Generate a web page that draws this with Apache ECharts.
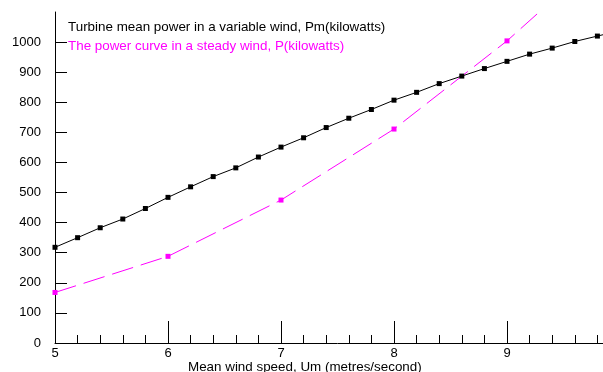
<!DOCTYPE html>
<html>
<head>
<meta charset="utf-8">
<script src="https://cdn.jsdelivr.net/npm/echarts@6/dist/echarts.min.js"></script>
<style>html,body{margin:0;padding:0;background:#fff;overflow:hidden;width:603px;height:372px}#c{width:620px;height:372px}</style>
</head>
<body>
<div id="c"></div>
<script>
const windSpeedMean = [5.0,5.2,5.4,5.6,5.8,6.0,6.2,6.4,6.6,6.8,7.0,7.2,7.4,7.6,7.8,8.0,8.2,8.4,8.6,8.8,9.0,9.2,9.4,9.6,9.8,10.0];
const meanPower = [318,350,383,412,447,484,519,553,582,618,651,682,716,747,776,807,833,862,887,912,936,960,980,1002,1020,1038];
const windSpeedSteady = [5,6,7,8,9,10];
const steadyPower = [168,288,475,711,1004,1340];
const yTickValues = [0,100,200,300,400,500,600,700,800,900,1000];
const xTickValues = [5,6,7,8,9,10];
const seriesNames = ['Turbine mean power in a variable wind, Pm(kilowatts)', 'The power curve in a steady wind, P(kilowatts)'];
const xAxisTitle = 'Mean wind speed, Um (metres/second)';

const font = 'Liberation Sans, Arial, sans-serif';
const chart = echarts.init(document.getElementById('c'));
chart.setOption({
  animation: false,
  backgroundColor: '#fff',
  title: [
    {text: seriesNames[0], left: 63, top: 16, textStyle: {fontFamily: font, fontSize: 13.4, fontWeight: 'normal', color: '#000'}},
    {text: seriesNames[1], left: 63, top: 35, textStyle: {fontFamily: font, fontSize: 13.4, fontWeight: 'normal', color: '#ff00ff'}},
    {text: xAxisTitle, left: 183, top: 356, textStyle: {fontFamily: font, fontSize: 13.4, fontWeight: 'normal', color: '#000'}}
  ],
  grid: {left: 55, width: 565, top: 12, height: 331, containLabel: false, outerBoundsMode: 'none'},
  xAxis: {
    type: 'value', min: 5, max: 10, interval: 1,
    axisLine: {lineStyle: {color: '#000', width: 1}},
    axisTick: {inside: true, length: 22, lineStyle: {color: '#000'}},
    minorTick: {show: true, splitNumber: 5, length: 8, lineStyle: {color: '#000'}},
    axisLabel: {color: '#000', fontFamily: font, fontSize: 13, margin: 4, customValues: xTickValues, formatter: v => String(v)},
    splitLine: {show: false}
  },
  yAxis: {
    type: 'value', min: 0, max: 1100,
    axisLine: {show: true, lineStyle: {color: '#000', width: 1}},
    axisTick: {show: true, inside: true, length: 12, lineStyle: {color: '#000'}, customValues: yTickValues},
    axisLabel: {color: '#000', fontFamily: font, fontSize: 13, margin: 14, customValues: yTickValues, formatter: v => String(v)},
    splitLine: {show: false}
  },
  series: [
    {
      name: seriesNames[0], type: 'line',
      data: windSpeedMean.map((x, i) => [x, meanPower[i]]),
      symbol: 'rect', symbolSize: 5, showSymbol: true,
      itemStyle: {color: '#000'},
      lineStyle: {color: '#000', width: 1},
      clip: true
    },
    {
      name: seriesNames[1], type: 'line',
      data: windSpeedSteady.map((x, i) => [x, steadyPower[i]]),
      symbol: 'rect', symbolSize: 5,
      itemStyle: {color: '#ff00ff'},
      lineStyle: {color: '#ff00ff', width: 1, type: [22, 8]},
      clip: true
    }
  ]
});
</script>
</body>
</html>
